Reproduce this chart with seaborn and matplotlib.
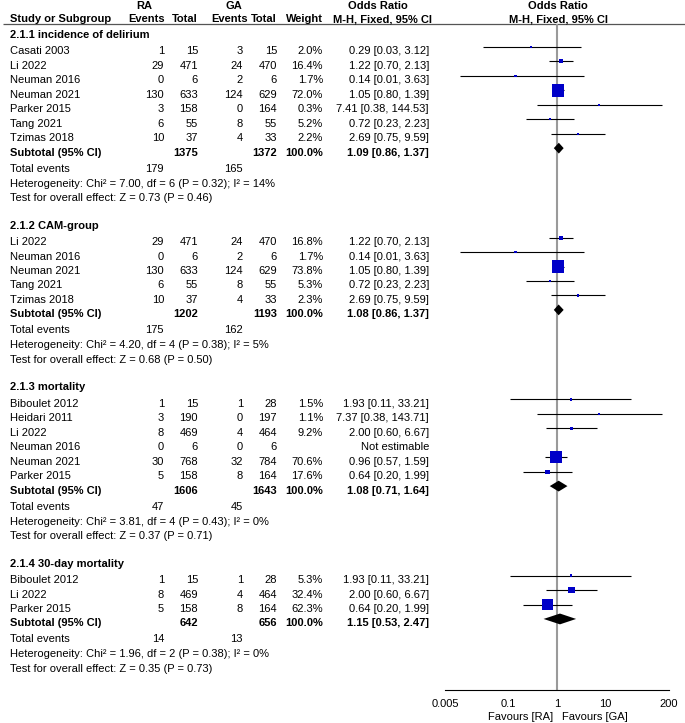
import numpy as np
import pandas as pd
import matplotlib
matplotlib.use("Agg")
import matplotlib.pyplot as plt
import seaborn as sns

# ---------------- data ----------------
section_titles = ["2.1.1 incidence of delirium", "2.1.2 CAM-group",
                  "2.1.3 mortality", "2.1.4 30-day mortality"]
study_section = [0] * 7 + [1] * 5 + [2] * 6 + [3] * 3
study_names = ["Casati 2003", "Li 2022", "Neuman 2016", "Neuman 2021", "Parker 2015", "Tang 2021", "Tzimas 2018",
               "Li 2022", "Neuman 2016", "Neuman 2021", "Tang 2021", "Tzimas 2018",
               "Biboulet 2012", "Heidari 2011", "Li 2022", "Neuman 2016", "Neuman 2021", "Parker 2015",
               "Biboulet 2012", "Li 2022", "Parker 2015"]
ra_events = [1, 29, 0, 130, 3, 6, 10, 29, 0, 130, 6, 10, 1, 3, 8, 0, 30, 5, 1, 8, 5]
ra_total = [15, 471, 6, 633, 158, 55, 37, 471, 6, 633, 55, 37, 15, 190, 469, 6, 768, 158, 15, 469, 158]
ga_events = [3, 24, 2, 124, 0, 8, 4, 24, 2, 124, 8, 4, 1, 0, 4, 0, 32, 8, 1, 4, 8]
ga_total = [15, 470, 6, 629, 164, 55, 33, 470, 6, 629, 55, 33, 28, 197, 464, 6, 784, 164, 28, 464, 164]
weights = [2.0, 16.4, 1.7, 72.0, 0.3, 5.2, 2.2, 16.8, 1.7, 73.8, 5.3, 2.3,
           1.5, 1.1, 9.2, np.nan, 70.6, 17.6, 5.3, 32.4, 62.3]
or_est = [0.29, 1.22, 0.14, 1.05, 7.41, 0.72, 2.69, 1.22, 0.14, 1.05, 0.72, 2.69,
          1.93, 7.37, 2.00, np.nan, 0.96, 0.64, 1.93, 2.00, 0.64]
or_lo = [0.03, 0.70, 0.01, 0.80, 0.38, 0.23, 0.75, 0.70, 0.01, 0.80, 0.23, 0.75,
         0.11, 0.38, 0.60, np.nan, 0.57, 0.20, 0.11, 0.60, 0.20]
or_hi = [3.12, 2.13, 3.63, 1.39, 144.53, 2.23, 9.59, 2.13, 3.63, 1.39, 2.23, 9.59,
         33.21, 143.71, 6.67, np.nan, 1.59, 1.99, 33.21, 6.67, 1.99]

sub_ra_total = [1375, 1202, 1606, 642]
sub_ga_total = [1372, 1193, 1643, 656]
sub_or = [1.09, 1.08, 1.08, 1.15]
sub_lo = [0.86, 0.86, 0.71, 0.53]
sub_hi = [1.37, 1.37, 1.64, 2.47]
tot_ra_events = [179, 175, 47, 14]
tot_ga_events = [165, 162, 45, 13]
het_chi2 = ["7.00", "4.20", "3.81", "1.96"]
het_df = [6, 4, 4, 2]
het_p = ["0.32", "0.38", "0.43", "0.38"]
het_i2 = [14, 5, 0, 0]
z_vals = ["0.73", "0.68", "0.37", "0.35"]
z_p = ["0.46", "0.50", "0.71", "0.73"]

x_ticks = [0.005, 0.1, 1, 10, 200]
x_tick_labels = ["0.005", "0.1", "1", "10", "200"]

# ---------------- style ----------------
sns.set_style("white")
plt.rcParams["font.family"] = ["Liberation Sans", "DejaVu Sans"]
FS = 8
BLUE = "#0000c8"

W, H = 685, 723
fig = plt.figure(figsize=(W / 100, H / 100), dpi=100)
tax = fig.add_axes([0, 0, 1, 1])
tax.set_xlim(0, W)
tax.set_ylim(H, 0)
tax.axis("off")

X0, X1 = 445, 669
fax = fig.add_axes([X0 / W, 0, (X1 - X0) / W, 1])
fax.patch.set_alpha(0)
fax.set_xscale("log")
fax.set_xlim(0.005, 200)
fax.set_ylim(H, 0)

# column right edges
C_NAME = 10
C_RAE, C_RAT, C_GAE, C_GAT, C_W, C_OR = 164, 198, 243, 277, 323, 429
BL = 4.0  # baseline offset from row center


def txt(x, y, s, ha="right", bold=False):
    tax.text(x, y + BL, s, ha=ha, va="baseline", fontsize=FS,
             fontweight="bold" if bold else "normal", color="black")


# header
txt(144, 5, "RA", ha="center", bold=True)
txt(234, 5, "GA", ha="center", bold=True)
txt(378, 5, "Odds Ratio", ha="center", bold=True)
txt(558, 5, "Odds Ratio", ha="center", bold=True)
hy = 18.5
txt(C_NAME, hy, "Study or Subgroup", ha="left", bold=True)
txt(C_RAE + 1, hy, "Events", bold=True)
txt(C_RAT, hy, "Total", bold=True)
txt(C_GAE + 5, hy, "Events", bold=True)
txt(C_GAT, hy, "Total", bold=True)
txt(C_W, hy, "Weight", bold=True)
txt(C_OR + 3, hy, "M-H, Fixed, 95% CI", bold=True)
txt(559, hy, "M-H, Fixed, 95% CI", ha="center", bold=True)
tax.plot([3, W], [24, 24], color="#555555", lw=0.9, solid_capstyle="butt")

# layout rows
study_y = [0.0] * len(study_names)
sub_y = []
y = 34.0
for s, title in enumerate(section_titles):
    txt(C_NAME, y, title, ha="left", bold=True)
    y += 16.5
    members = [i for i, sec in enumerate(study_section) if sec == s]
    for i in members:
        study_y[i] = y
        txt(C_NAME, y, study_names[i], ha="left")
        txt(C_RAE, y, str(ra_events[i]))
        txt(C_RAT, y, str(ra_total[i]))
        txt(C_GAE, y, str(ga_events[i]))
        txt(C_GAT, y, str(ga_total[i]))
        if np.isnan(weights[i]):
            txt(C_OR, y, "Not estimable")
        else:
            txt(C_W, y, f"{weights[i]:.1f}%")
            txt(C_OR, y, f"{or_est[i]:.2f} [{or_lo[i]:.2f}, {or_hi[i]:.2f}]")
        y += 14.45
    sub_y.append(y)
    txt(C_NAME, y, "Subtotal (95% CI)", ha="left", bold=True)
    txt(C_RAT, y, str(sub_ra_total[s]), bold=True)
    txt(C_GAT, y, str(sub_ga_total[s]), bold=True)
    txt(C_W, y, "100.0%", bold=True)
    txt(C_OR, y, f"{sub_or[s]:.2f} [{sub_lo[s]:.2f}, {sub_hi[s]:.2f}]", bold=True)
    y += 16
    txt(C_NAME, y, "Total events", ha="left")
    txt(C_RAE, y, str(tot_ra_events[s]))
    txt(C_GAE, y, str(tot_ga_events[s]))
    y += 15
    txt(C_NAME, y, f"Heterogeneity: Chi\u00b2 = {het_chi2[s]}, df = {het_df[s]} "
                   f"(P = {het_p[s]}); I\u00b2 = {het_i2[s]}%", ha="left")
    y += 14.5
    txt(C_NAME, y, f"Test for overall effect: Z = {z_vals[s]} (P = {z_p[s]})", ha="left")
    y += 27.5

# ---------------- forest ----------------
MOFF = -3.5
AXIS_Y = 690
fax.plot([1, 1], [24, AXIS_Y], color="#9a9a9a", lw=1.5, zorder=1, solid_capstyle="butt")

df = pd.DataFrame({"or": or_est, "lo": or_lo, "hi": or_hi, "w": weights,
                   "y": np.array(study_y) + MOFF}).dropna()
side_px = np.maximum(2.3, 12.3 * (df["w"] / 72.0) ** 0.76)
df["area"] = (side_px * 0.72) ** 2

fax.hlines(df["y"], df["lo"], df["hi"], color="black", lw=0.8, zorder=2)
amin, amax = df["area"].min(), df["area"].max()
sns.scatterplot(data=df, x="or", y="y", size="area", sizes=(amin, amax),
                size_norm=(amin, amax), marker="s", color=BLUE, linewidth=0,
                legend=False, ax=fax, zorder=3)

DH = 5.4
for s in range(len(section_titles)):
    yc = sub_y[s] + MOFF
    fax.fill([sub_lo[s], sub_or[s], sub_hi[s], sub_or[s]],
             [yc, yc - DH, yc, yc + DH], color="black", lw=0, zorder=4)

for sp in ["top", "left", "right"]:
    fax.spines[sp].set_visible(False)
fax.spines["bottom"].set_position(("data", AXIS_Y))
fax.spines["bottom"].set_color("black")
fax.spines["bottom"].set_linewidth(0.8)
fax.set_xticks(x_ticks)
fax.set_xticklabels(x_tick_labels)
fax.minorticks_off()
fax.tick_params(axis="x", direction="inout", length=4.5, width=0.8,
                labelsize=FS, pad=4.5, colors="black")
fax.set_yticks([])
fax.set_xlabel("")
fax.set_ylabel("")

txt(553, 716, "Favours [RA]")
txt(562, 716, "Favours [GA]", ha="left")

fig.savefig("out.png", dpi=100)
